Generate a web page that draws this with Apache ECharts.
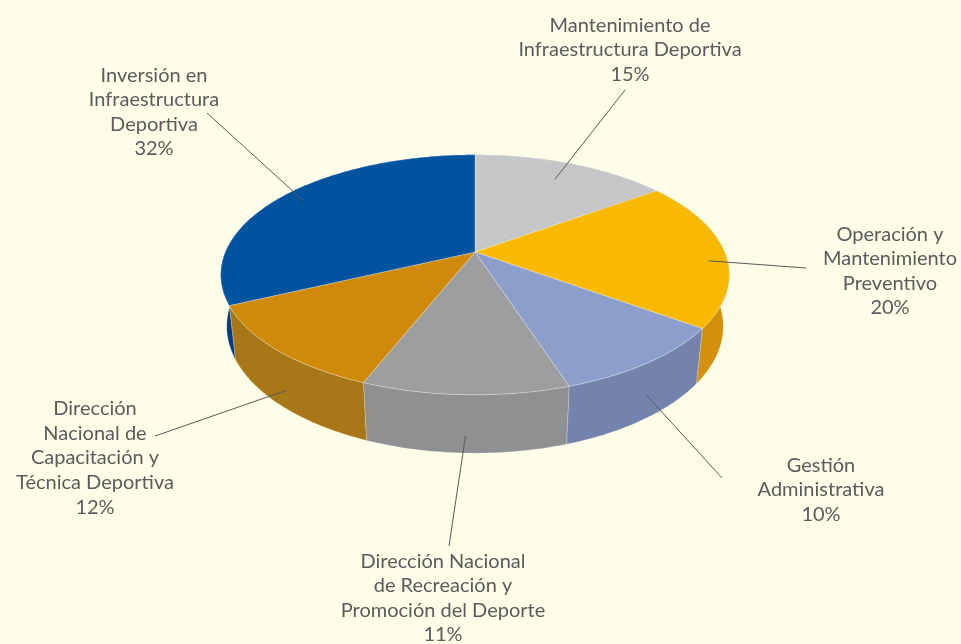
<!DOCTYPE html>
<html>
<head>
<meta charset="utf-8">
<script src="https://cdn.jsdelivr.net/npm/echarts@6/dist/echarts.min.js"></script>
<style>
  html, body { margin: 0; padding: 0; background: #fefde8; }
  #chart { width: 961px; height: 644px; }
</style>
</head>
<body>
<div id="chart"></div>
<script>
// Budget share per programme, clockwise from 12 o'clock
const categories = [
  'Mantenimiento de\nInfraestructura Deportiva',
  'Operación y\nMantenimiento\nPreventivo',
  'Gestión\nAdministrativa',
  'Dirección Nacional\nde Recreación y\nPromoción del Deporte',
  'Dirección\nNacional de\nCapacitación y\nTécnica Deportiva',
  'Inversión en\nInfraestructura\nDeportiva'
];
const shares = [15, 20, 10, 11, 12, 32];

// Palette: top faces and darker outer walls
const topColors  = ['#c5c6c8', '#f9b900', '#8c9fcc', '#9d9ea0', '#d08a09', '#00539f'];
const sideColors = ['#a9aaac', '#d4900a', '#7483ab', '#8f9092', '#a87818', '#003d80'];

// Label placement (text centre, leader end) and leader anchor on the slice
const labelLayout = [
  { x: 630, y: 50,  lx: 625, ly: 90,  r: 0.80, h: 0 },
  { x: 890, y: 271, lx: 806, ly: 268, r: 0.94, h: -0.04 },
  { x: 821, y: 490, lx: 722, ly: 478, r: 1.00, h: -0.13 },
  { x: 443, y: 598, lx: 449, ly: 546, r: 1.00, h: -0.165 },
  { x: 95,  y: 458, lx: 155, ly: 436, r: 0.98, h: -0.18 },
  { x: 154, y: 112, lx: 207, ly: 113, r: 0.88, h: 0 }
];

// Perspective projection of a tilted disc (radius 1, thickness THICK)
const CX = 475, CY = 252, F = 1165, DIST = 4.667;
const TILT = 27.6 * Math.PI / 180;
const SA = Math.sin(TILT), CA = Math.cos(TILT);
const THICK = 0.235;

function project(r, theta, y) {
  const X = r * Math.sin(theta), Z = r * Math.cos(theta);
  const yc = y * CA + Z * SA;
  const zc = DIST + Z * CA - y * SA;
  return [CX + F * X / zc, CY - F * yc / zc];
}

const total = shares.reduce((s, v) => s + v, 0);
function sliceAngles(idx) {
  let start = 0;
  for (let i = 0; i < idx; i++) start += shares[i];
  return [start / total * 2 * Math.PI, (start + shares[idx]) / total * 2 * Math.PI];
}
function arc(t1, t2, y) {
  const pts = [];
  const n = Math.max(2, Math.ceil((t2 - t1) / (Math.PI / 180)));
  for (let k = 0; k <= n; k++) pts.push(project(1, t1 + (t2 - t1) * k / n, y));
  return pts;
}

const seriesData = shares.map((v, i) => ({ name: categories[i], value: v }));

function renderWall(params, api) {
  const i = params.dataIndex;
  const [t1, t2] = sliceAngles(i);
  const pts = arc(t1, t2, 0).concat(arc(t1, t2, -THICK).reverse());
  return {
    type: 'polygon',
    shape: { points: pts },
    style: { fill: sideColors[i], stroke: 'rgba(255,255,255,0.35)', lineWidth: 0.6 }
  };
}

function renderTop(params, api) {
  const i = params.dataIndex;
  const [t1, t2] = sliceAngles(i);
  const pts = [project(0, 0, 0)].concat(arc(t1, t2, 0));
  return {
    type: 'polygon',
    shape: { points: pts },
    style: { fill: topColors[i], stroke: 'rgba(255,255,255,0.45)', lineWidth: 0.6 }
  };
}

function renderLabel(params, api) {
  const i = params.dataIndex;
  const [t1, t2] = sliceAngles(i);
  const L = labelLayout[i];
  const anchor = project(L.r, (t1 + t2) / 2, L.h);
  return {
    type: 'group',
    children: [
      {
        type: 'line',
        shape: { x1: anchor[0], y1: anchor[1], x2: L.lx, y2: L.ly },
        style: { stroke: '#5a5a5a', lineWidth: 1 }
      },
      {
        type: 'text',
        style: {
          text: categories[i] + '\n' + api.value(0) + '%',
          x: L.x, y: L.y,
          align: 'center', verticalAlign: 'middle',
          fill: '#5b5b5b',
          fontFamily: 'Lato, "Open Sans", sans-serif',
          fontSize: 20,
          lineHeight: 24.6
        }
      }
    ]
  };
}

const chart = echarts.init(document.getElementById('chart'), null, { renderer: 'canvas' });
chart.setOption({
  backgroundColor: '#fefde8',
  animation: false,
  series: [
    { type: 'custom', coordinateSystem: 'none', renderItem: renderWall, data: seriesData, z: 1, silent: true },
    { type: 'custom', coordinateSystem: 'none', renderItem: renderTop, data: seriesData, z: 2, silent: true },
    { type: 'custom', coordinateSystem: 'none', renderItem: renderLabel, data: seriesData, z: 3, silent: true }
  ]
});
</script>
</body>
</html>
